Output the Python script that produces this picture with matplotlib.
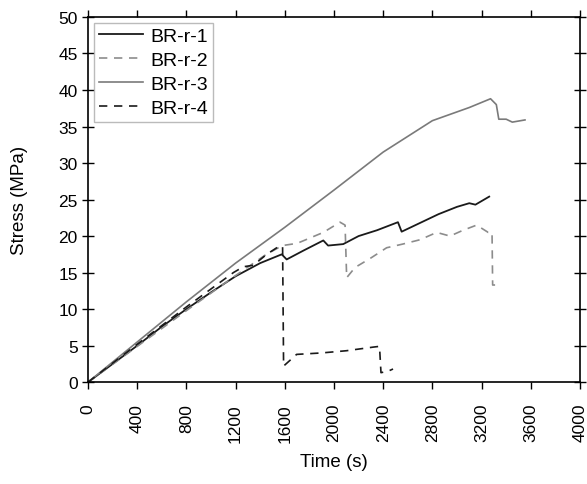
import matplotlib
matplotlib.use("Agg")
from matplotlib import pyplot as plt

plt.rc("font", family="Liberation Sans", size=12)

# BR-r-1
t1 = [0, 200, 400, 600, 800, 1000, 1200, 1400, 1575, 1615, 1750, 1913, 1952, 2075, 2200, 2350, 2520, 2550,
      2700, 2850, 3000, 3100, 3150, 3262]
s1 = [0, 2.5, 5.0, 7.6, 10.0, 12.3, 14.5, 16.3, 17.5, 16.8, 18.0, 19.4, 18.7, 18.9, 20.0, 20.8, 21.9, 20.6,
      21.8, 23.0, 24.0, 24.5, 24.3, 25.4]

# BR-r-2
t2 = [0, 400, 800, 1200, 1450, 1580, 1700, 1913, 2049, 2090, 2103, 2171, 2300, 2428, 2558, 2700, 2835, 2943,
      3050, 3160, 3254, 3285, 3290, 3310]
s2 = [0, 4.9, 9.8, 14.6, 17.5, 18.7, 19.0, 20.5, 21.9, 21.5, 14.3, 15.7, 17.0, 18.4, 18.9, 19.5, 20.5, 20.0,
      20.8, 21.5, 20.5, 20.5, 13.3, 13.3]

# BR-r-3
t3 = [0, 400, 800, 1200, 1600, 2000, 2400, 2800, 3100, 3273, 3320, 3340, 3400, 3450, 3553]
s3 = [0, 5.5, 11.0, 16.3, 21.2, 26.3, 31.5, 35.8, 37.6, 38.8, 38.0, 36.0, 36.0, 35.6, 35.9]

# BR-r-4
t4 = [0, 400, 800, 1182, 1263, 1344, 1453, 1561, 1582, 1590, 1696, 1900, 2100, 2320, 2370, 2382, 2440, 2480]
s4 = [0, 5.2, 10.3, 15.0, 15.8, 16.0, 17.5, 18.7, 18.5, 2.2, 3.8, 4.0, 4.3, 4.8, 4.9, 1.3, 1.5, 1.8]

fig = plt.figure(figsize=(5.87, 4.85), dpi=100)
ax = fig.add_axes([0.150, 0.210, 0.838, 0.753])

ax.plot(t1, s1, color="#1a1a1a", lw=1.3, label="BR-r-1")
ax.plot(t2, s2, color="#8c8c8c", lw=1.2, dashes=(5, 4), label="BR-r-2")
ax.plot(t3, s3, color="#7a7a7a", lw=1.2, label="BR-r-3")
ax.plot(t4, s4, color="#1a1a1a", lw=1.2, dashes=(5, 4), label="BR-r-4")

ax.set_xlim(0, 4000)
ax.set_ylim(0, 50)
ax.set_xticks(range(0, 4001, 400))
ax.set_yticks(range(0, 51, 5))
ax.tick_params(axis="x", labelrotation=90, direction="out", length=5, top=True, width=1, labelsize=12.5, pad=10)
ax.tick_params(axis="y", direction="inout", length=8, right=True, width=1, labelsize=12.5)
ax.set_xlabel("Time (s)", fontsize=13.5, labelpad=8)
ax.set_ylabel("Stress (MPa)", fontsize=13.5, labelpad=22)
for sp in ax.spines.values():
    sp.set_linewidth(1.2)

leg = ax.legend(loc="upper left", fontsize=14, fancybox=False, handlelength=2.3, handletextpad=0.35,
                borderpad=0.25, labelspacing=0.32, borderaxespad=0.3)
leg.get_frame().set_edgecolor("#aaaaaa")

plt.savefig("out.png", dpi=100)
